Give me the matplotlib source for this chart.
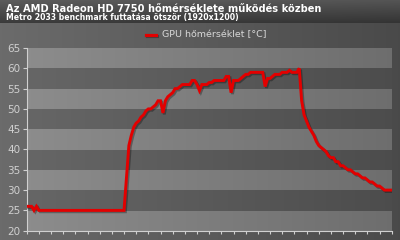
import numpy as np
import matplotlib
matplotlib.use("Agg")
import matplotlib.pyplot as plt
import matplotlib.patheffects as pe

# adatok (minta index, homerseklet)
ido = np.arange(0, 301, 2)
gpu_temp = [26, 26, 26, 25, 26, 25,
            25, 25, 25, 25, 25, 25, 25, 25, 25, 25, 25, 25, 25, 25, 25, 25, 25, 25,
            25, 25, 25, 25, 25, 25, 25, 25, 25, 25, 25, 25, 25, 25, 25, 25, 25,
            33, 41, 43.5, 45.5, 46.5, 47, 48, 48.5, 49.5, 50, 50, 50.5, 51, 52, 52,
            49, 52, 53, 53.5, 54, 55, 55, 55.5, 56, 56, 56, 56, 57, 57, 56, 54.5,
            56, 56, 56, 56.5, 56.5, 57, 57, 57, 57, 57, 58, 58, 54, 57, 57, 57,
            57.5, 58, 58.5, 58.5, 59, 59, 59, 59, 59, 59, 55.5, 57.5, 57.5, 58,
            58.5, 58.5, 58.5, 59, 59, 59, 59.5, 59, 59, 59, 60,
            52, 48.5, 47, 45.5, 44.5, 43.5, 42, 41, 40.5, 40, 39.5, 38.5, 38, 38,
            37, 37, 36, 36, 35.5, 35, 35, 34.5, 34, 34, 33.5, 33, 33, 32.5, 32,
            32, 31.5, 31, 31, 30.5, 30, 30, 30, 30]
y_ticks = [20, 25, 30, 35, 40, 45, 50, 55, 60, 65]

cim = "Az AMD Radeon HD 7750 hőmérséklete működés közben"
alcim = "Metro 2033 benchmark futtatása ötször (1920x1200)"
jelmagyarazat = "GPU hőmérséklet [°C]"

fig = plt.figure(figsize=(4, 2.4), dpi=100)

# hatter atmenet
bg = fig.add_axes([0, 0, 1, 1])
bg.set_axis_off()
gx = np.linspace(0, 1, 200)
gy = np.linspace(0, 1, 240)
GX, GY = np.meshgrid(gx, gy)
bgval = 0.42 - 0.13 * GX
bar = GY < 23 / 240
bgval[bar] = (0.36 - 0.13 * (GY[bar] / (23 / 240))) - 0.03 * GX[bar]
bg.imshow(np.dstack([bgval] * 3), extent=[0, 1, 0, 1], aspect="auto", origin="upper")
bg.set_xlim(0, 1)
bg.set_ylim(0, 1)

fig.text(0.015, 1 - 8.5 / 240, cim, color="white", fontsize=7.15, fontweight="bold", va="center", ha="left")
fig.text(0.015, 1 - 17.5 / 240, alcim, color="white", fontsize=5.6, fontweight="bold", va="center", ha="left")

ax = fig.add_axes([0.0667, 0.0388, 0.9125, 0.7612])
ax.set_xlim(0, 300)
ax.set_ylim(20, 65)

# savos hatter
sx = np.linspace(0, 1, 200)
band_img = np.zeros((9, 200))
for k in range(9):
    if k % 2 == 0:
        band_img[k] = 0.55 - 0.12 * sx
    else:
        band_img[k] = 0.40 - 0.10 * sx
ax.imshow(np.dstack([band_img] * 3), extent=[0, 300, 20, 65], aspect="auto", origin="upper",
          interpolation="nearest", zorder=0)

ax.plot(ido, gpu_temp, color="#e30000", linewidth=2.1, solid_joinstyle="miter", zorder=3,
        path_effects=[pe.SimpleLineShadow(offset=(1, -1), shadow_color="black", alpha=0.3), pe.Normal()])

ax.set_yticks(y_ticks)
ax.set_xticks(np.arange(0, 301, 10))
ax.set_xticklabels([])
ax.tick_params(axis="y", colors="#d0d0d0", labelsize=7.5, length=3, width=0.8, pad=1.5)
ax.tick_params(axis="x", colors="#d0d0d0", length=2, width=0.8, direction="out")
for s in ["top", "right"]:
    ax.spines[s].set_visible(False)
ax.spines["left"].set_color("#d0d0d0")
ax.spines["bottom"].set_color("#d0d0d0")

# jelmagyarazat
bg.plot([0.365, 0.39], [1 - 35 / 240, 1 - 35 / 240], color="#e30000", linewidth=2.3,
        path_effects=[pe.SimpleLineShadow(offset=(1, -1), shadow_color="black", alpha=0.3), pe.Normal()])
bg.text(0.405, 1 - 35 / 240, jelmagyarazat, color="#d8d8d8", fontsize=6.8, va="center", ha="left")

fig.savefig("out.png", dpi=100)
